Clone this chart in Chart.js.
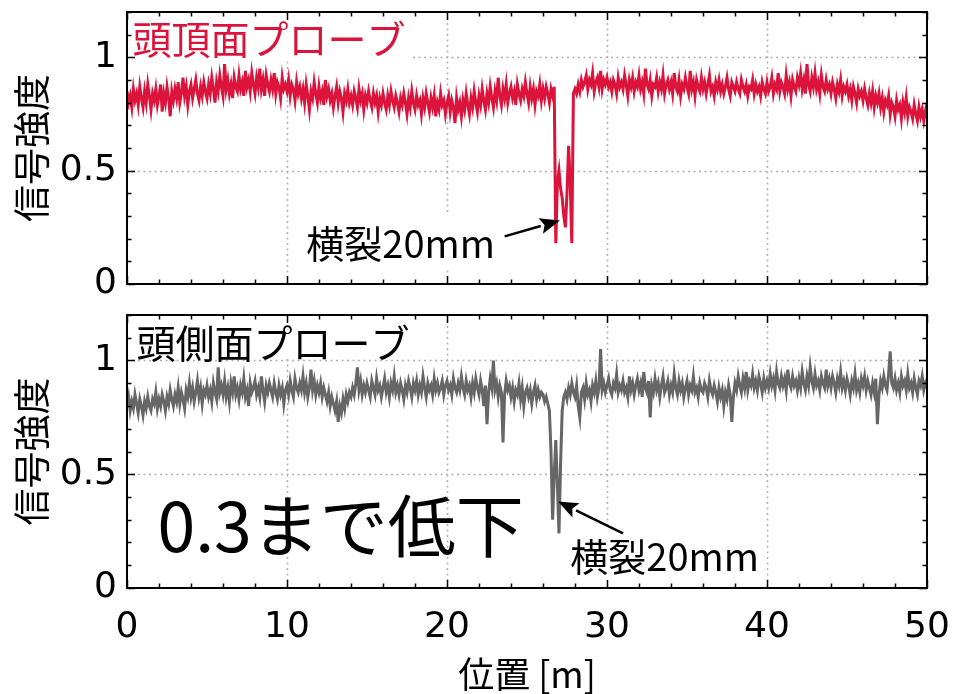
<!DOCTYPE html>
<html>
<head>
<meta charset="utf-8">
<script src="https://cdn.jsdelivr.net/npm/chart.js@4/dist/chart.umd.min.js"></script>
<style>
  body { margin: 0; background: #fff; }
  #wrap { position: relative; width: 953px; height: 694px; }
  canvas { position: absolute; left: 0; display: block; }
  #topChart { top: 0; }
  #botChart { top: 300px; }
</style>
</head>
<body>
<div id="wrap">
  <canvas id="topChart" width="953" height="300"></canvas>
  <canvas id="botChart" width="953" height="394"></canvas>
</div>
<script>
//sample spacing along the rail [m]
var step = 0.1;

//頭頂面プローブ (one value every 0.1 m, one row = 1 m, 0 .. 50 m)
var crownSignal = [
  0.85,0.80,0.83,0.78,0.86,0.81,0.84,0.79,0.87,0.82,
  0.78,0.85,0.80,0.88,0.83,0.77,0.84,0.81,0.86,0.79,
  0.83,0.88,0.76,0.84,0.80,0.87,0.82,0.74,0.85,0.81,
  0.86,0.82,0.89,0.80,0.84,0.91,0.83,0.87,0.79,0.85,
  0.88,0.82,0.86,0.90,0.84,0.81,0.87,0.83,0.89,0.85,
  0.82,0.88,0.84,0.91,0.86,0.80,0.89,0.85,0.92,0.87,
  0.83,0.97,0.86,0.90,0.84,0.88,0.82,0.91,0.87,0.85,
  0.92,0.86,0.89,0.83,0.94,0.87,0.90,0.85,0.93,0.88,
  0.84,0.91,0.87,0.95,0.86,0.90,0.83,0.92,0.88,0.85,
  0.90,0.86,0.93,0.84,0.89,0.87,0.82,0.91,0.86,0.88,
  0.85,0.90,0.83,0.88,0.86,0.81,0.89,0.84,0.87,0.82,
  0.86,0.80,0.88,0.83,0.77,0.85,0.82,0.89,0.84,0.80,
  0.87,0.82,0.85,0.79,0.90,0.83,0.86,0.81,0.84,0.78,
  0.83,0.87,0.80,0.85,0.82,0.76,0.84,0.81,0.86,0.80,
  0.83,0.79,0.85,0.82,0.78,0.86,0.81,0.84,0.77,0.83,
  0.80,0.85,0.81,0.78,0.84,0.80,0.83,0.76,0.82,0.79,
  0.84,0.80,0.77,0.83,0.79,0.85,0.81,0.78,0.83,0.80,
  0.76,0.82,0.79,0.84,0.80,0.75,0.82,0.78,0.85,0.80,
  0.77,0.83,0.79,0.81,0.75,0.82,0.78,0.84,0.80,0.76,
  0.82,0.78,0.83,0.74,0.80,0.77,0.84,0.79,0.81,0.75,
  0.80,0.83,0.76,0.81,0.78,0.71,0.82,0.77,0.80,0.74,
  0.81,0.77,0.84,0.79,0.75,0.82,0.78,0.85,0.80,0.76,
  0.83,0.79,0.86,0.81,0.77,0.84,0.80,0.87,0.82,0.78,
  0.85,0.81,0.91,0.83,0.79,0.86,0.82,0.88,0.80,0.84,
  0.87,0.82,0.85,0.79,0.88,0.84,0.81,0.86,0.83,0.89,
  0.84,0.80,0.87,0.82,0.86,0.79,0.85,0.83,0.88,0.81,
  0.86,0.82,0.87,0.84,0.80,0.86,0.83,0.87,0.18,0.45,
  0.50,0.42,0.38,0.30,0.25,0.40,0.61,0.45,0.18,0.84,
  0.86,0.84,0.88,0.85,0.90,0.87,0.89,0.92,0.86,0.90,
  0.88,0.93,0.85,0.89,0.91,0.87,0.94,0.86,0.90,0.88,
  0.91,0.87,0.89,0.85,0.90,0.88,0.84,0.91,0.87,0.89,
  0.86,0.92,0.88,0.83,0.90,0.87,0.91,0.85,0.89,0.87,
  0.92,0.86,0.89,0.84,0.95,0.88,0.86,0.90,0.83,0.88,
  0.87,0.91,0.85,0.89,0.86,0.92,0.84,0.88,0.90,0.86,
  0.89,0.84,0.93,0.87,0.85,0.90,0.83,0.88,0.86,0.91,
  0.87,0.84,0.94,0.86,0.89,0.83,0.90,0.87,0.85,0.91,
  0.86,0.89,0.84,0.88,0.92,0.85,0.87,0.83,0.89,0.86,
  0.90,0.85,0.88,0.84,0.87,0.91,0.86,0.83,0.89,0.87,
  0.85,0.89,0.86,0.84,0.90,0.87,0.85,0.88,0.83,0.87,
  0.86,0.90,0.84,0.88,0.85,0.87,0.83,0.89,0.86,0.84,
  0.89,0.85,0.87,0.91,0.84,0.88,0.86,0.93,0.85,0.89,
  0.87,0.84,0.92,0.86,0.89,0.83,0.90,0.87,0.85,0.91,
  0.88,0.93,0.86,0.90,0.84,0.97,0.88,0.85,0.91,0.87,
  0.93,0.86,0.89,0.84,0.92,0.87,0.85,0.90,0.86,0.88,
  0.84,0.89,0.86,0.82,0.88,0.85,0.90,0.83,0.87,0.85,
  0.88,0.83,0.86,0.81,0.87,0.84,0.80,0.86,0.83,0.85,
  0.81,0.86,0.82,0.79,0.84,0.80,0.85,0.78,0.83,0.80,
  0.84,0.78,0.82,0.76,0.81,0.79,0.83,0.75,0.80,0.78,
  0.74,0.81,0.77,0.79,0.73,0.80,0.76,0.82,0.74,0.78,
  0.76,0.73,0.79,0.75,0.72,0.78,0.74,0.77,0.72,0.76,
  0.80
];

//頭側面プローブ
var sideSignal = [
  0.80,0.84,0.78,0.82,0.79,0.85,0.81,0.77,0.83,0.80,
  0.76,0.82,0.79,0.84,0.80,0.78,0.83,0.81,0.86,0.79,
  0.83,0.80,0.85,0.82,0.78,0.84,0.81,0.87,0.83,0.80,
  0.85,0.82,0.88,0.81,0.86,0.83,0.79,0.87,0.84,0.90,
  0.84,0.88,0.82,0.86,0.91,0.84,0.88,0.81,0.87,0.85,
  0.89,0.84,0.87,0.82,0.90,0.86,0.83,0.97,0.86,0.89,
  0.85,0.91,0.84,0.88,0.82,0.90,0.86,0.93,0.85,0.88,
  0.83,0.89,0.86,0.92,0.84,0.87,0.80,0.90,0.86,0.88,
  0.91,0.85,0.88,0.84,0.93,0.87,0.82,0.89,0.86,0.90,
  0.87,0.84,0.90,0.86,0.83,0.89,0.85,0.88,0.81,0.87,
  0.89,0.85,0.91,0.87,0.84,0.92,0.88,0.86,0.90,0.87,
  0.93,0.86,0.90,0.84,0.88,0.96,0.87,0.91,0.85,0.89,
  0.86,0.90,0.84,0.88,0.85,0.82,0.86,0.80,0.84,0.81,
  0.78,0.82,0.73,0.80,0.77,0.83,0.79,0.85,0.82,0.86,
  0.84,0.88,0.85,0.90,0.97,0.87,0.91,0.85,0.89,0.86,
  0.90,0.87,0.84,0.91,0.88,0.85,0.92,0.87,0.89,0.84,
  0.88,0.92,0.86,0.89,0.84,0.90,0.87,0.93,0.86,0.89,
  0.85,0.90,0.87,0.83,0.89,0.86,0.91,0.88,0.84,0.90,
  0.87,0.91,0.85,0.89,0.86,0.93,0.88,0.84,0.90,0.87,
  0.89,0.85,0.92,0.87,0.90,0.86,0.88,0.91,0.85,0.89,
  0.91,0.87,0.89,0.85,0.92,0.88,0.86,0.90,0.87,0.93,
  0.88,0.85,0.91,0.87,0.89,0.84,0.90,0.86,0.92,0.88,
  0.85,0.91,0.87,0.80,0.89,0.72,0.86,0.92,0.88,1.00,
  0.87,0.90,0.84,0.89,0.86,0.64,0.85,0.91,0.87,0.89,
  0.84,0.88,0.82,0.87,0.85,0.90,0.83,0.88,0.80,0.86,
  0.88,0.84,0.87,0.81,0.86,0.89,0.83,0.87,0.84,0.86,
  0.85,0.82,0.84,0.81,0.78,0.60,0.30,0.50,0.65,0.45,
  0.24,0.55,0.78,0.84,0.86,0.83,0.88,0.85,0.90,0.86,
  0.84,0.89,0.80,0.75,0.86,0.88,0.83,0.90,0.85,0.87,
  0.82,0.89,0.86,0.91,0.84,0.88,1.05,0.87,0.90,0.86,
  0.89,0.92,0.87,0.85,0.90,0.88,0.94,0.86,0.89,0.87,
  0.91,0.86,0.88,0.84,0.93,0.87,0.90,0.85,0.89,0.92,
  0.87,0.90,0.84,0.95,0.88,0.86,0.91,0.75,0.89,0.86,
  0.92,0.87,0.90,0.84,0.89,0.93,0.86,0.88,0.91,0.85,
  0.89,0.86,0.94,0.88,0.85,0.91,0.87,0.90,0.84,0.88,
  0.91,0.85,0.89,0.87,0.93,0.86,0.88,0.84,0.90,0.87,
  0.86,0.90,0.88,0.84,0.91,0.87,0.85,0.89,0.86,0.82,
  0.88,0.84,0.87,0.80,0.86,0.83,0.89,0.85,0.73,0.84,
  0.90,0.87,0.93,0.89,0.86,0.92,0.88,0.95,0.87,0.91,
  0.89,0.94,0.88,0.91,0.87,0.93,0.90,0.86,0.92,0.88,
  0.91,0.88,0.94,0.89,0.92,0.87,0.95,0.90,0.88,0.93,
  0.89,0.92,0.87,0.96,0.90,0.88,0.93,0.89,0.91,0.87,
  0.92,0.88,0.95,0.90,0.87,0.93,0.89,0.97,0.91,0.88,
  0.94,0.89,0.91,0.87,0.93,0.90,0.88,0.96,0.89,0.92,
  0.88,0.93,0.90,0.86,0.92,0.89,0.95,0.88,0.91,0.87,
  0.92,0.89,0.85,0.91,0.88,0.94,0.87,0.90,0.86,0.92,
  0.89,0.93,0.87,0.91,0.88,0.85,0.90,0.86,0.92,0.72,
  0.85,0.91,0.88,0.93,0.89,0.87,0.94,1.04,0.90,0.88,
  0.92,0.87,0.90,0.86,0.93,0.89,0.91,0.87,0.94,0.88,
  0.90,0.86,0.92,0.88,0.85,0.91,0.89,0.93,0.87,0.90,
  0.88
];

//axis ticks
var xTicks = [0, 10, 20, 30, 40, 50];
var yTicks = [0, 0.5, 1];

var tickFont = { family: 'DejaVu Sans', size: 36 };
var jpFont = "'Noto Sans CJK JP', 'Noto Sans', sans-serif";

//turns values into {x, y} points for the linear x scale
function toPoints(values) {
  return values.map(function(v, i) {
    return { x: Math.round(i * step * 10) / 10, y: v };
  });
}

//dotted grid, white label boxes and texts, then frame + inward ticks on top
var panelDecor = {
  id: 'panelDecor',
  beforeDatasetsDraw: function(chart, args, opts) {
    var ctx = chart.ctx, a = chart.chartArea;
    var xs = chart.scales.x, ys = chart.scales.y;
    ctx.save();
    ctx.strokeStyle = '#b0b0b0';
    ctx.lineWidth = 1.5;
    ctx.setLineDash([2, 3.5]);
    xTicks.forEach(function(v) {
      if (v <= xs.min || v >= xs.max) return;
      var px = Math.round(xs.getPixelForValue(v)) + 0.5;
      ctx.beginPath(); ctx.moveTo(px, a.top); ctx.lineTo(px, a.bottom); ctx.stroke();
    });
    yTicks.forEach(function(v) {
      if (v <= ys.min || v >= ys.max) return;
      var py = Math.round(ys.getPixelForValue(v)) + 0.5;
      ctx.beginPath(); ctx.moveTo(a.left, py); ctx.lineTo(a.right, py); ctx.stroke();
    });
    ctx.setLineDash([]);

    //texts
    (opts.notes || []).forEach(function(n) {
      ctx.font = n.size + 'px ' + jpFont;
      ctx.textBaseline = 'middle';
      ctx.textAlign = n.align;
      var px = xs.getPixelForValue(n.x), py = ys.getPixelForValue(n.y);
      var w = ctx.measureText(n.text).width;
      if (n.box) {
        var left = n.align === 'center' ? px - w / 2 : px;
        ctx.fillStyle = '#fff';
        ctx.fillRect(left - n.box[0], py - n.box[1], w + 2 * n.box[0], n.box[1] + n.box[2]);
      }
      ctx.fillStyle = n.color;
      ctx.fillText(n.text, px, py);
    });
    ctx.restore();
  },
  afterDatasetsDraw: function(chart, args, opts) {
    var ctx = chart.ctx, a = chart.chartArea;
    var xs = chart.scales.x, ys = chart.scales.y;
    ctx.save();

    //arrows
    (opts.arrows || []).forEach(function(ar) {
      var x0 = xs.getPixelForValue(ar.from[0]), y0 = ys.getPixelForValue(ar.from[1]);
      var x1 = xs.getPixelForValue(ar.to[0]), y1 = ys.getPixelForValue(ar.to[1]);
      var ang = Math.atan2(y1 - y0, x1 - x0);
      var hl = 20, hw = 8;
      var bx = x1 - hl * Math.cos(ang), by = y1 - hl * Math.sin(ang);
      ctx.strokeStyle = '#000';
      ctx.fillStyle = '#000';
      ctx.lineWidth = 2.5;
      ctx.beginPath(); ctx.moveTo(x0, y0); ctx.lineTo(bx, by); ctx.stroke();
      ctx.beginPath();
      ctx.moveTo(x1, y1);
      ctx.lineTo(bx + hw * Math.sin(ang), by - hw * Math.cos(ang));
      ctx.lineTo(x1 - hl * 0.8 * Math.cos(ang), y1 - hl * 0.8 * Math.sin(ang));
      ctx.lineTo(bx - hw * Math.sin(ang), by + hw * Math.cos(ang));
      ctx.closePath();
      ctx.fill();
    });

    //frame and inward ticks
    ctx.strokeStyle = '#000';
    ctx.lineWidth = 1.5;
    for (var v = 0; v <= 50; v += 2) {
      var px = Math.round(xs.getPixelForValue(v)) + 0.5;
      var len = v % 10 === 0 ? 8 : 4.5;
      ctx.beginPath();
      ctx.moveTo(px, a.bottom); ctx.lineTo(px, a.bottom - len);
      ctx.moveTo(px, a.top); ctx.lineTo(px, a.top + len);
      ctx.stroke();
    }
    for (var k = 0; k <= 12; k++) {
      var py = Math.round(ys.getPixelForValue(k / 10)) + 0.5;
      var l2 = k % 5 === 0 ? 8 : 4.5;
      ctx.beginPath();
      ctx.moveTo(a.left, py); ctx.lineTo(a.left + l2, py);
      ctx.moveTo(a.right, py); ctx.lineTo(a.right - l2, py);
      ctx.stroke();
    }
    ctx.lineWidth = 2;
    ctx.strokeRect(a.left, a.top, a.right - a.left, a.bottom - a.top);
    ctx.restore();
  }
};

function makePanel(canvasId, values, color, showX, pad, notes, arrows) {
  return new Chart(document.getElementById(canvasId), {
    type: 'line',
    data: {
      datasets: [{
        data: toPoints(values),
        borderColor: color,
        borderWidth: 3,
        pointRadius: 0,
        tension: 0,
        fill: false
      }]
    },
    options: {
      responsive: false,
      animation: false,
      devicePixelRatio: 1,
      events: [],
      layout: { padding: pad },
      plugins: {
        legend: { display: false },
        tooltip: { enabled: false },
        panelDecor: { notes: notes, arrows: arrows }
      },
      scales: {
        x: {
          type: 'linear',
          min: 0,
          max: 50,
          display: showX,
          afterBuildTicks: function(s) { s.ticks = xTicks.map(function(v) { return { value: v }; }); },
          ticks: {
            font: tickFont,
            color: '#000',
            padding: 18,
            maxRotation: 0,
            callback: function(v) { return String(v); }
          },
          grid: { display: false, drawTicks: false },
          border: { display: false },
          title: {
            display: true,
            text: '位置 [m]',
            color: '#000',
            font: { family: jpFont, size: 36, lineHeight: 1.1 },
            padding: { top: 0, bottom: 0 }
          },
          //hidden axis on the upper panel takes no room
          afterFit: function(s) { s.height = showX ? 106 : 0; s.paddingLeft = 0; s.paddingRight = 0; }
        },
        y: {
          min: 0,
          max: 1.2,
          afterBuildTicks: function(s) { s.ticks = yTicks.map(function(v) { return { value: v }; }); },
          ticks: {
            font: tickFont,
            color: '#000',
            padding: 10,
            callback: function(v) { return String(v); }
          },
          grid: { display: false, drawTicks: false },
          border: { display: false },
          title: {
            display: true,
            text: '信号強度',
            color: '#000',
            font: { family: jpFont, size: 37 },
            padding: { top: 10, bottom: 0 }
          },
          afterFit: function(s) { s.width = 127; s.paddingTop = 0; s.paddingBottom = 0; }
        }
      }
    },
    plugins: [panelDecor]
  });
}

makePanel('topChart', crownSignal, '#DC143C', false,
  { left: 0, right: 26, top: 12, bottom: 16 },
  [
    { text: '頭頂面プローブ', x: 0.35, y: 1.08, size: 39, color: '#DC143C', align: 'left', box: [6, 24, 22] },
    { text: '横裂20mm', x: 17.1, y: 0.18, size: 38, color: '#000', align: 'center', box: [6, 28, 24] }
  ],
  [ { from: [23.6, 0.21], to: [27.06, 0.28] } ]
);

makePanel('botChart', sideSignal, '#666666', true,
  { left: 0, right: 26, top: 15, bottom: 0 },
  [
    { text: '頭側面プローブ', x: 0.6, y: 1.075, size: 39, color: '#000', align: 'left', box: [6, 24, 14] },
    { text: '0.3まで低下', x: 1.9, y: 0.27, size: 68, color: '#000', align: 'left', box: null },
    { text: '横裂20mm', x: 33.6, y: 0.14, size: 38, color: '#000', align: 'center', box: [8, 27, 26] }
  ],
  [ { from: [31.0, 0.24], to: [26.94, 0.38] } ]
);
</script>
</body>
</html>
